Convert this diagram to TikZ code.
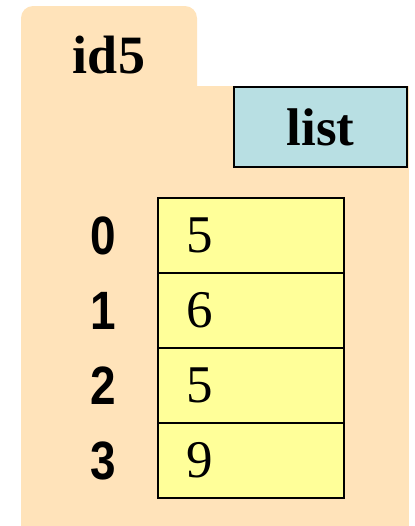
\documentclass[tikz,border=0pt]{standalone}
\usepackage{fontspec}
\setmainfont{Liberation Serif}
\newfontfamily\indexfont[FakeStretch=0.85]{Liberation Sans}
\definecolor{folderpeach}{RGB}{255,227,186}
\definecolor{typeblue}{RGB}{184,223,227}
\definecolor{cellyellow}{RGB}{255,255,153}
\usetikzlibrary{positioning}

\begin{document}
\begin{tikzpicture}[x=0.5pt, y=-0.5pt,
  folder/.style={fill=folderpeach},
  typebox/.style={draw, line width=0.9pt, fill=typeblue, minimum width=86.5pt,
    minimum height=40pt, inner sep=0pt, font=\fontsize{26.5}{30}\selectfont\bfseries},
  cell/.style={draw, line width=0.9pt, fill=cellyellow, minimum width=93pt,
    minimum height=37.5pt, text width=65pt, align=left, inner xsep=14pt,
    inner ysep=0pt, outer sep=0pt, font=\fontsize{26.5}{30}\selectfont},
  idx/.style={font=\indexfont\fontsize{27}{30}\selectfont\bfseries, inner sep=0pt},
]
\useasboundingbox (0,0) rectangle (415,526);

% Folder: tab on top, body below
\fill[folder, rounded corners=6pt] (21,100) -- (21,6) -- (197,6) -- (197,100) -- cycle;
\fill[folder] (21,86) rectangle (409,526);
\node[font=\fontsize{27}{30}\selectfont\bfseries] (id) at (109,55) {id5};

% Type tag
\node[typebox, anchor=north east] (type) at (408,86) {list};

% List cells
\node[cell, anchor=north west] (c0) at (158,198) {5};
\node[cell, below=0pt of c0] (c1) {6};
\node[cell, below=0pt of c1] (c2) {5};
\node[cell, below=0pt of c2] (c3) {9};

% Indices
\node[idx, left=21pt of c0] (i0) {0};
\node[idx, left=21pt of c1] (i1) {1};
\node[idx, left=21pt of c2] (i2) {2};
\node[idx, left=21pt of c3] (i3) {3};
\end{tikzpicture}
\end{document}
